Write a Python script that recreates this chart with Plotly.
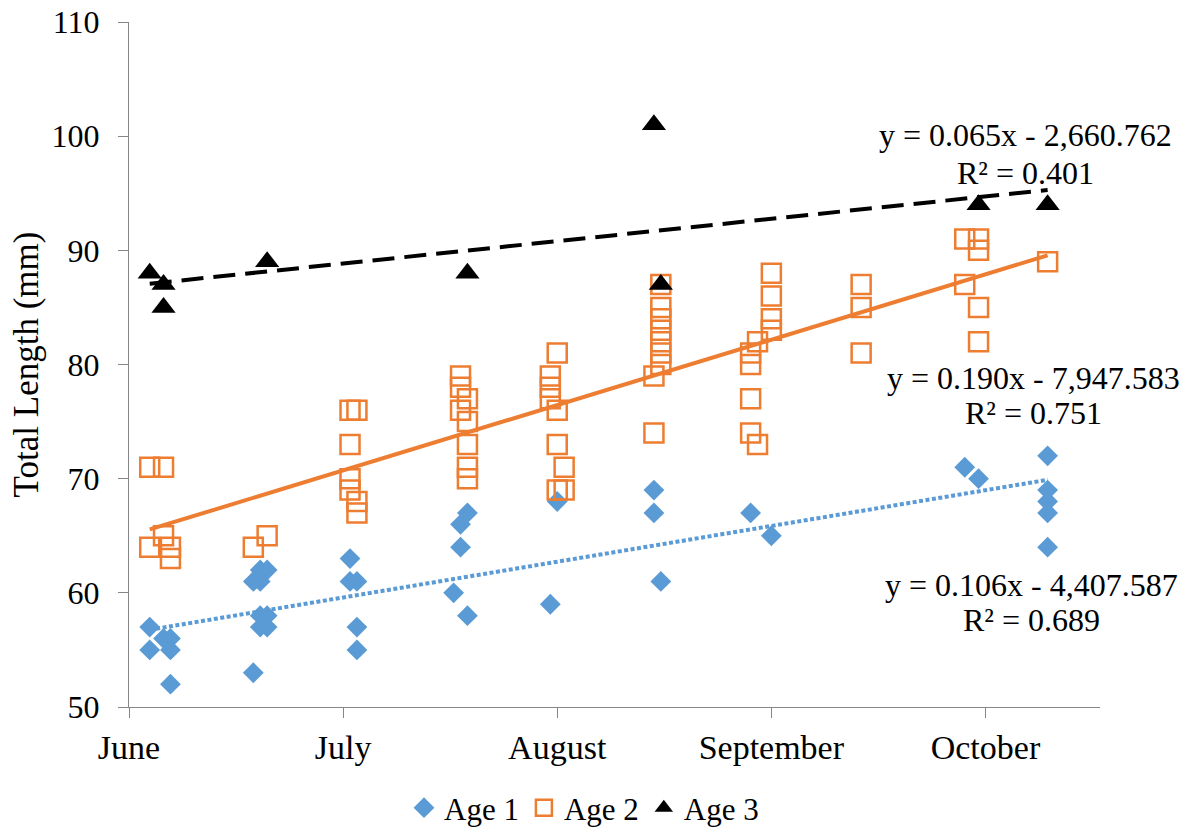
import numpy as np
import pandas as pd
import plotly.graph_objects as go

# Sampling dates and total lengths (mm) per age class
age1_dates = [
    "2015-06-04", "2015-06-04",
    "2015-06-06",
    "2015-06-07", "2015-06-07", "2015-06-07",
    "2015-06-19", "2015-06-19",
    "2015-06-20", "2015-06-20", "2015-06-20", "2015-06-20",
    "2015-06-21", "2015-06-21", "2015-06-21",
    "2015-07-03", "2015-07-03",
    "2015-07-04", "2015-07-04", "2015-07-04",
    "2015-07-18",
    "2015-07-19", "2015-07-19",
    "2015-07-20", "2015-07-20",
    "2015-08-01",
    "2015-08-02",
    "2015-08-16", "2015-08-16",
    "2015-08-17",
    "2015-08-30",
    "2015-09-02",
    "2015-09-30",
    "2015-10-02",
    "2015-10-12", "2015-10-12", "2015-10-12", "2015-10-12", "2015-10-12",
]
age1_len = [57, 55, 56, 56, 55, 52, 61, 53, 62, 61, 58, 57, 62, 58, 57,
            63, 61, 61, 57, 55, 60, 66, 64, 67, 58, 59, 68, 69, 67, 61,
            67, 65, 71, 70, 72, 69, 68, 67, 64]

age2_dates = [
    "2015-06-04", "2015-06-04",
    "2015-06-06", "2015-06-06",
    "2015-06-07", "2015-06-07",
    "2015-06-19",
    "2015-06-21",
    "2015-07-03", "2015-07-03", "2015-07-03", "2015-07-03",
    "2015-07-04", "2015-07-04", "2015-07-04",
    "2015-07-19", "2015-07-19", "2015-07-19",
    "2015-07-20", "2015-07-20", "2015-07-20", "2015-07-20", "2015-07-20",
    "2015-08-01", "2015-08-01", "2015-08-01",
    "2015-08-02", "2015-08-02", "2015-08-02", "2015-08-02",
    "2015-08-03", "2015-08-03",
    "2015-08-16", "2015-08-16",
    "2015-08-17", "2015-08-17", "2015-08-17", "2015-08-17",
    "2015-08-17", "2015-08-17", "2015-08-17",
    "2015-08-30", "2015-08-30", "2015-08-30", "2015-08-30",
    "2015-08-31", "2015-08-31",
    "2015-09-02", "2015-09-02", "2015-09-02", "2015-09-02",
    "2015-09-15", "2015-09-15", "2015-09-15",
    "2015-09-30", "2015-09-30",
    "2015-10-02", "2015-10-02", "2015-10-02", "2015-10-02",
    "2015-10-12",
]
age2_len = [71, 64, 71, 65, 64, 63, 64, 65,
            76, 73, 70, 69, 76, 68, 67,
            79, 78, 76, 77, 75, 73, 71, 70,
            79, 78, 77, 81, 76, 73, 69, 71, 69,
            79, 74, 87, 85, 84, 83, 82, 81, 80,
            81, 80, 77, 74, 82, 73, 88, 86, 84, 83,
            87, 85, 81, 91, 87, 91, 90, 85, 82, 89]

age3_dates = ["2015-06-04", "2015-06-06", "2015-06-06", "2015-06-21",
              "2015-07-20", "2015-08-16", "2015-08-17", "2015-10-02",
              "2015-10-12"]
age3_len = [88, 87, 85, 89, 88, 101, 87, 94, 94]

# Axis ticks (one label every 31 days)
tick_dates = ["2015-06-01", "2015-07-02", "2015-08-02", "2015-09-02", "2015-10-03"]
tick_labels = ["June", "July", "August", "September", "October"]

# Trendline equation labels
eq_labels = {
    "age3": ("y = 0.065x - 2,660.762", "R² = 0.401"),
    "age2": ("y = 0.190x - 7,947.583", "R² = 0.751"),
    "age1": ("y = 0.106x - 4,407.587", "R² = 0.689"),
}

BLUE = "#5B9BD5"
ORANGE = "#ED7D31"
BLACK = "#000000"
AXIS = "#868686"
FONT = "Liberation Serif"


def linear_trend(dates, values):
    d = pd.to_datetime(pd.Series(dates))
    days = (d - d.min()).dt.total_seconds() / 86400.0
    slope, icpt = np.polyfit(days.values, np.asarray(values, float), 1)
    ends = np.array([days.min(), days.max()])
    xs = [d.min() + pd.Timedelta(days=float(e)) for e in ends]
    return xs, slope * ends + icpt


fig = go.Figure()

fig.add_trace(go.Scatter(
    x=age1_dates, y=age1_len, mode="markers", name="Age 1",
    marker=dict(symbol="diamond", size=16, color=BLUE, line=dict(width=0)),
))
fig.add_trace(go.Scatter(
    x=age2_dates, y=age2_len, mode="markers", name="Age 2",
    marker=dict(symbol="square-open", size=19, color=ORANGE,
                line=dict(width=2.5, color=ORANGE)),
))
fig.add_trace(go.Scatter(
    x=age3_dates, y=age3_len, mode="markers", name="Age 3",
    marker=dict(symbol="triangle-up", size=21, color=BLACK, line=dict(width=0)),
))

# Least-squares trendlines over each series' date span
for dates, vals, color, dash in [
    (age1_dates, age1_len, BLUE, "4px,2.5px"),
    (age2_dates, age2_len, ORANGE, "solid"),
    (age3_dates, age3_len, BLACK, "22px,10px"),
]:
    tx, ty = linear_trend(dates, vals)
    fig.add_trace(go.Scatter(
        x=tx, y=ty, mode="lines", showlegend=False, hoverinfo="skip",
        line=dict(color=color, width=4, dash=dash),
    ))

# Equation / R² labels
label_pos = {
    "age3": (0.9228, 0.835, 0.7796),
    "age2": (0.932, 0.4803, 0.4292),
    "age1": (0.929, 0.1781, 0.127),
}
for key, (xp, y1, y2) in label_pos.items():
    for txt, yp in zip(eq_labels[key], (y1, y2)):
        fig.add_annotation(
            x=xp, y=yp, xref="paper", yref="paper", text=txt,
            showarrow=False, xanchor="center", yanchor="middle",
            font=dict(family=FONT, size=32, color="black"),
        )

fig.update_layout(
    width=1187, height=833,
    margin=dict(l=129, r=87, t=22, b=126, autoexpand=False),
    paper_bgcolor="white", plot_bgcolor="white",
    font=dict(family=FONT, size=32, color="black"),
    showlegend=True,
    legend=dict(
        orientation="h", xref="container", yref="container",
        x=0.492, y=0.03, xanchor="center", yanchor="middle",
        font=dict(family=FONT, size=31, color="black"),
        itemwidth=30, tracegroupgap=0,
    ),
)

fig.update_xaxes(
    type="date", range=["2015-06-01", "2015-10-19 14:00"],
    tickmode="array", tickvals=tick_dates, ticktext=tick_labels,
    ticks="outside", ticklen=10, tickwidth=1, tickcolor=AXIS,
    showline=True, linecolor=AXIS, linewidth=1,
    showgrid=False, zeroline=False, automargin=False,
    tickfont=dict(family=FONT, size=34, color="black"),
)
fig.update_yaxes(
    range=[50, 110], dtick=10, tick0=50,
    ticks="outside", ticklen=10, tickwidth=1, tickcolor=AXIS,
    showline=True, linecolor=AXIS, linewidth=1,
    showgrid=False, zeroline=False, automargin=False,
    ticklabelstandoff=12,
    tickfont=dict(family=FONT, size=32, color="black"),
    title=dict(text="Total Length (mm)", font=dict(family=FONT, size=35, color="black"),
               standoff=2),
)

fig.write_html("out.html")
